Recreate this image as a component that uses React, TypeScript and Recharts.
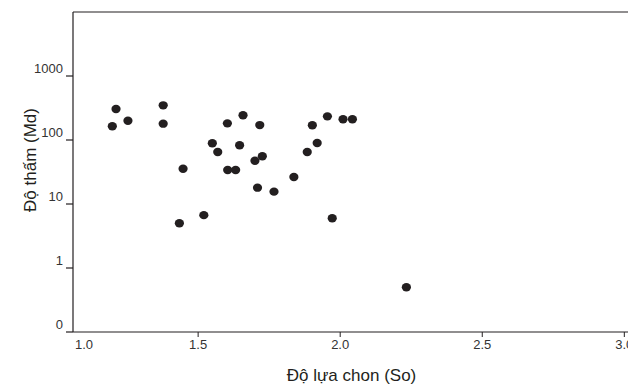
import React from "react";
import {
  ScatterChart,
  Scatter,
  XAxis,
  YAxis,
  ReferenceLine,
  Label,
} from "recharts";

// sorting coefficient (So) and permeability (Md) for each sample
const soValues = [
  1.211, 1.198, 1.253, 1.377, 1.377, 1.447, 1.434, 1.52, 1.55, 1.569,
  1.603, 1.658, 1.646, 1.604, 1.632, 1.7, 1.726, 1.717, 1.709, 1.767,
  1.837, 1.884, 1.902, 1.919, 1.955, 2.01, 2.043, 1.972, 2.233,
];
const mdValues = [
  305, 164, 200, 348, 180, 35.6, 5.0, 6.7, 88.8, 64.9,
  182, 243, 82.6, 34, 34, 47.5, 55.6, 171, 18.0, 15.6,
  26.4, 64.9, 170, 89.8, 234, 211, 211, 5.98, 0.5,
];

const xTicks = [1.0, 1.5, 2.0, 2.5, 3.0];
const yTicks = [0.1, 1, 10, 100, 1000];

const data = soValues.map((so, i) => ({ so, md: mdValues[i] }));

const INK = "#231f20";
const TEXT = "#333";
const FONT = "'Liberation Sans', Arial, sans-serif";

//========== tick renderers ===========
const XTick = (props: any) => {
  const { x, y, payload } = props;
  const first = payload.value === 1.0;
  // the first label sits inside the frame, right of the y axis
  const tx = first ? x + 28 : x;
  return (
    <g>
      {!first && <line x1={x} x2={x} y1={y - 12} y2={y - 7} stroke={INK} strokeWidth={1} />}
      <text x={tx} y={y + 5} textAnchor="middle" fontSize={13} fill={TEXT} fontFamily={FONT}>
        {payload.value.toFixed(1)}
      </text>
    </g>
  );
};

const YTick = (props: any) => {
  const { x, y, payload } = props;
  const label = payload.value < 1 ? "0" : String(payload.value);
  return (
    <text x={x} y={y - 3} textAnchor="end" fontSize={13} fill={TEXT} fontFamily={FONT}>
      {label}
    </text>
  );
};

const Dot = (props: any) => {
  const { cx, cy } = props;
  return <ellipse cx={cx} cy={cy} rx={4.6} ry={4.2} fill={INK} />;
};

const App: React.FC = () => {
  return (
    <div
      style={{
        position: "absolute",
        left: 0,
        top: 0,
        width: 628,
        height: 385,
        overflow: "hidden",
        background: "#fff",
      }}
    >
      <ScatterChart width={640} height={385} margin={{ top: 12, right: 10, bottom: 0, left: 0 }}>
        <XAxis
          type="number"
          dataKey="so"
          domain={[1.0596, 3.02]}
          ticks={xTicks}
          interval={0}
          allowDataOverflow
          height={53}
          tickSize={5}
          tickMargin={7}
          tickLine={false}
          tick={<XTick />}
          axisLine={{ stroke: INK, strokeWidth: 1.2 }}
        >
          <Label
            content={(p: any) => {
              const vb = p.viewBox;
              return (
                <text
                  x={vb.x + vb.width / 2}
                  y={vb.y + 49}
                  textAnchor="middle"
                  fontSize={17}
                  fill={INK}
                  fontFamily={FONT}
                >
                  Độ lựa chon (So)
                </text>
              );
            }}
          />
        </XAxis>
        <YAxis
          type="number"
          dataKey="md"
          scale="log"
          domain={[0.1, 10000]}
          ticks={yTicks}
          interval={0}
          allowDataOverflow
          width={73}
          tickSize={7}
          tickMargin={3}
          tick={<YTick />}
          tickLine={{ stroke: INK, strokeWidth: 1.2 }}
          axisLine={{ stroke: INK, strokeWidth: 1.2 }}
        >
          <Label
            content={(p: any) => {
              const vb = p.viewBox;
              const cx = vb.x + 36;
              const cy = vb.y + vb.height / 2 - 12;
              return (
                <text
                  x={cx}
                  y={cy}
                  transform={`rotate(-90 ${cx} ${cy})`}
                  textAnchor="middle"
                  fontSize={17}
                  fill={INK}
                  fontFamily={FONT}
                >
                  Độ thấm (Md)
                </text>
              );
            }}
          />
        </YAxis>
        <ReferenceLine y={10000} stroke={INK} strokeWidth={1.2} />
        <Scatter data={data} shape={<Dot />} isAnimationActive={false} />
      </ScatterChart>
    </div>
  );
};

export default App;
